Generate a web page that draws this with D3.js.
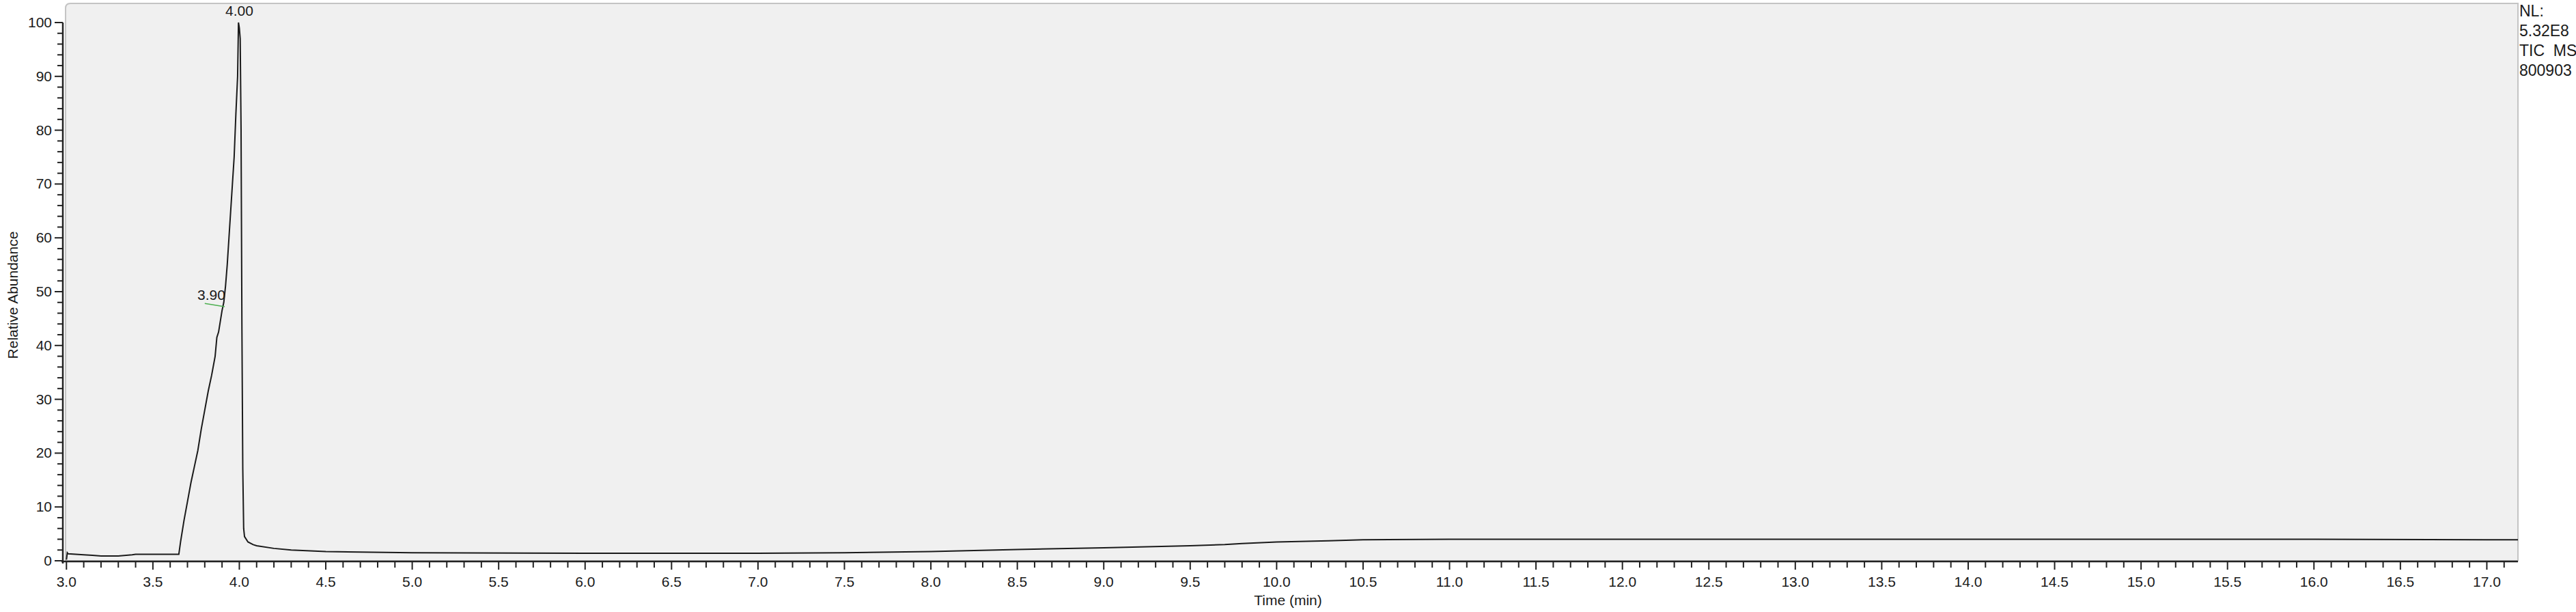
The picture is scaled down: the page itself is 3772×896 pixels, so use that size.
<!DOCTYPE html>
<html><head><meta charset="utf-8">
<script src="https://cdn.jsdelivr.net/npm/d3@7"></script>
<style>body{margin:0;background:#fff}text{font-family:"Liberation Sans",Arial,sans-serif;fill:#1a1a1a}</style>
</head><body><svg id="c" width="3772" height="896"></svg>
<script>
const times = [3.0,3.005,3.01,3.1,3.15,3.2,3.3,3.38,3.4,3.5,3.6,3.65,3.66,3.68,3.7,3.72,3.74,3.76,3.78,3.8,3.82,3.84,3.86,3.87,3.88,3.9,3.91,3.92,3.93,3.94,3.95,3.96,3.97,3.98,3.99,3.995,4.0,4.005,4.01,4.015,4.02,4.025,4.03,4.05,4.08,4.1,4.2,4.3,4.5,5.0,6.0,7.0,7.5,8.0,8.5,9.0,9.5,9.7,9.8,10.0,10.3,10.5,11.0,11.5,12.0,13.0,14.0,15.0,16.0,17.0,17.18];
const abundance = [0.2,1.5,1.3,1.1,1.0,0.9,0.9,1.1,1.2,1.2,1.2,1.2,3.5,7.5,11,14.5,17.5,20.5,24.5,28,31.5,34.5,38,41.5,42.5,46.5,48,51,55,60,65,70,75,83,90,100,99,97,80,43,17,6,4.5,3.5,3.0,2.8,2.3,2.0,1.7,1.5,1.4,1.4,1.5,1.7,2.1,2.4,2.8,3.0,3.2,3.5,3.7,3.9,4.0,4.0,4.0,4.0,4.0,4.0,4.0,3.9,3.9];
const yTicks = [0,10,20,30,40,50,60,70,80,90,100];
const xTicks = d3.range(30,172,5).map(v=>v/10);
const peakLabels = [{t:4.00,label:"4.00"},{t:3.90,label:"3.90"}];
const infoLines = ["NL:","5.32E8","TIC  MS","800903"];

const svg = d3.select("#c");
const x = d3.scaleLinear().domain([3.0,17.18]).range([97.3,3687]);
const y = d3.scaleLinear().domain([0,100]).range([821,33]);

svg.append("path").attr("d","M96,821 V12 Q96,5 103,5 H3687 V821 Z").attr("fill","#f0f0f0").attr("stroke","#c4c4c4").attr("stroke-width",2);

const ya = svg.append("g").attr("transform","translate(92,0)");
ya.append("line").attr("y1",y(100)).attr("y2",825).attr("stroke","#222").attr("stroke-width",2.5);
ya.selectAll(".m").data(d3.range(0,101,2)).join("line").attr("x1",d=>d%10===0?-12:-8).attr("x2",0).attr("y1",d=>y(d)).attr("y2",d=>y(d)).attr("stroke","#222").attr("stroke-width",2);
ya.selectAll("text").data(yTicks).join("text").attr("x",-16).attr("y",d=>y(d)+7).attr("text-anchor","end").attr("font-size",21).text(d=>d);
const xa = svg.append("g");
xa.append("line").attr("x1",90).attr("x2",3687).attr("y1",822).attr("y2",822).attr("stroke","#222").attr("stroke-width",2.5);
xa.selectAll("line.m").data(d3.range(30,172,1).map(v=>v/10)).join("line").attr("class","m").attr("x1",d=>x(d)).attr("x2",d=>x(d)).attr("y1",822).attr("y2",(d,i)=>i%5===0?834:831).attr("stroke","#222").attr("stroke-width",2);
xa.selectAll("text").data(xTicks).join("text").attr("x",d=>x(d)).attr("y",859).attr("text-anchor","middle").attr("font-size",21).text(d=>d.toFixed(1));
svg.append("text").attr("x",1886).attr("y",886).attr("text-anchor","middle").attr("font-size",21).text("Time (min)");
svg.append("text").attr("transform","translate(26,432) rotate(-90)").attr("text-anchor","middle").attr("font-size",21).text("Relative Abundance");

svg.append("path").datum(times.map((t,i)=>[t,abundance[i]])).attr("fill","none").attr("stroke","#1a1a1a").attr("stroke-width",2)
  .attr("d",d3.line().x(d=>x(d[0])).y(d=>y(d[1])));

svg.append("text").attr("x",x(4.0)).attr("y",23).attr("text-anchor","middle").attr("font-size",21).text(peakLabels[0].label);
svg.append("line").attr("x1",x(3.80)).attr("x2",x(3.915)).attr("y1",y(47.8)).attr("y2",y(47.2)).attr("stroke","#4caf50").attr("stroke-width",1.5);
svg.append("text").attr("x",x(3.838)).attr("y",y(48.5)).attr("text-anchor","middle").attr("font-size",21).text(peakLabels[1].label);

svg.append("g").selectAll("text").data(infoLines).join("text").attr("x",3689).attr("y",(d,i)=>24+i*29).attr("font-size",23).style("white-space","pre").text(d=>d);
</script></body></html>
